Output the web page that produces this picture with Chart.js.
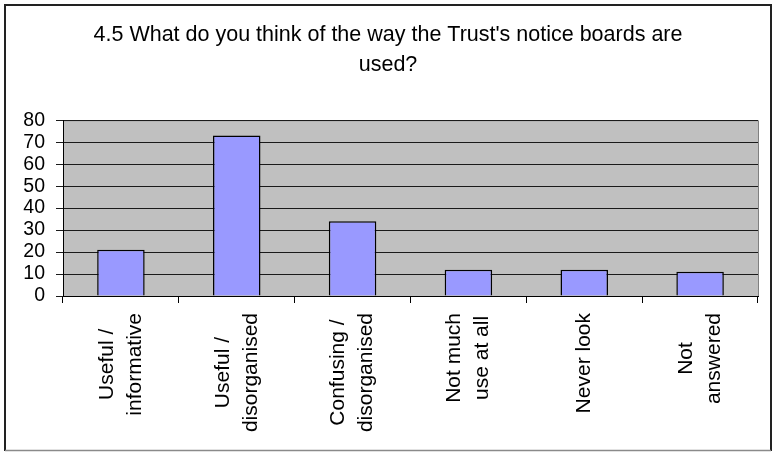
<!DOCTYPE html>
<html>
<head>
<meta charset="utf-8">
<script src="https://cdn.jsdelivr.net/npm/chart.js@4/dist/chart.umd.min.js"></script>
<style>
  html, body { margin: 0; padding: 0; background: #fff; }
  #wrap { position: relative; width: 774px; height: 452px; }
</style>
</head>
<body>
<div id="wrap"><canvas id="myChart" width="774" height="452"></canvas></div>
<script>
'use strict';

const titleLines = ["4.5 What do you think of the way the Trust's notice boards are", 'used?'];
const categories = [
  ['Useful /', 'informative'],
  ['Useful /', 'disorganised'],
  ['Confusing /', 'disorganised'],
  ['Not much', 'use at all'],
  ['Never look'],
  ['Not', 'answered']
];
const responses = [21, 73, 34, 12, 12, 11];
const yTicks = [0, 10, 20, 30, 40, 50, 60, 70, 80];

const FONT = 'Arial, "Liberation Sans", sans-serif';

// grey plot area, grey top/right edge and the outer frame
const frame = {
  id: 'frame',
  beforeDraw(chart) {
    const c = chart.ctx;
    const a = chart.chartArea;
    c.save();
    c.fillStyle = '#fff';
    c.fillRect(0, 0, chart.width, chart.height);
    c.fillStyle = '#c0c0c0';
    c.fillRect(a.left, a.top, a.right - a.left, a.bottom - a.top);
    c.strokeStyle = '#808080';
    c.lineWidth = 1;
    c.beginPath();
    c.moveTo(a.left, a.top + 0.5);
    c.lineTo(a.right + 0.5, a.top + 0.5);
    c.lineTo(a.right + 0.5, a.bottom);
    c.stroke();
    c.strokeStyle = '#222';
    c.lineWidth = 2;
    c.beginPath();
    c.moveTo(5, 451);
    c.lineTo(5, 5);
    c.lineTo(771, 5);
    c.lineTo(771, 451);
    c.stroke();
    c.strokeStyle = '#8a8a8a';
    c.lineWidth = 1.5;
    c.beginPath();
    c.moveTo(5, 450.5);
    c.lineTo(771, 450.5);
    c.stroke();
    c.restore();
  }
};

// vertical category labels, lines centred on each other
const xLabels = {
  id: 'xLabels',
  afterDraw(chart) {
    const c = chart.ctx;
    const x = chart.scales.x;
    const top = chart.chartArea.bottom + 17;
    const lineH = 28;
    c.save();
    c.font = '21px ' + FONT;
    c.fillStyle = '#000';
    c.textAlign = 'center';
    c.textBaseline = 'middle';
    categories.forEach((lines, i) => {
      const px = x.getPixelForValue(i);
      const w = Math.max(...lines.map(l => c.measureText(l).width));
      lines.forEach((line, j) => {
        c.save();
        c.translate(px + (j - (lines.length - 1) / 2) * lineH, top + w / 2);
        c.rotate(-Math.PI / 2);
        c.fillText(line, 0, 0);
        c.restore();
      });
    });
    c.restore();
  }
};

const ctx = document.getElementById('myChart').getContext('2d');

const myChart = new Chart(ctx, {
  type: 'bar',
  data: {
    labels: categories,
    datasets: [{
      data: responses,
      backgroundColor: '#9999ff',
      borderColor: '#000',
      borderWidth: 1.5,
      barPercentage: 0.41,
      categoryPercentage: 1
    }]
  },
  options: {
    responsive: false,
    animation: false,
    layout: { padding: { left: 18, right: 16, top: 0, bottom: 0 } },
    plugins: {
      legend: { display: false },
      tooltip: { enabled: false },
      title: {
        display: true,
        text: titleLines,
        color: '#000',
        font: { family: FONT, size: 21.5, weight: 'normal', lineHeight: 1.4 },
        padding: { top: 20, bottom: 40 }
      }
    },
    scales: {
      x: {
        afterFit: s => { s.height = 156; },
        grid: {
          offset: true,
          drawOnChartArea: false,
          drawTicks: true,
          tickLength: 7,
          color: '#000'
        },
        border: { color: '#000', width: 1 },
        ticks: { display: false }
      },
      y: {
        min: 0,
        max: 80,
        afterFit: s => { s.width = 45; },
        afterBuildTicks: s => { s.ticks = yTicks.map(v => ({ value: v })); },
        grid: { color: '#1a1a1a', tickLength: 7, lineWidth: 1 },
        border: { color: '#000', width: 1 },
        ticks: {
          autoSkip: false,
          color: '#000',
          padding: 11,
          font: { family: FONT, size: 19.5, lineHeight: 1 }
        }
      }
    }
  },
  plugins: [frame, xLabels]
});
</script>
</body>
</html>
